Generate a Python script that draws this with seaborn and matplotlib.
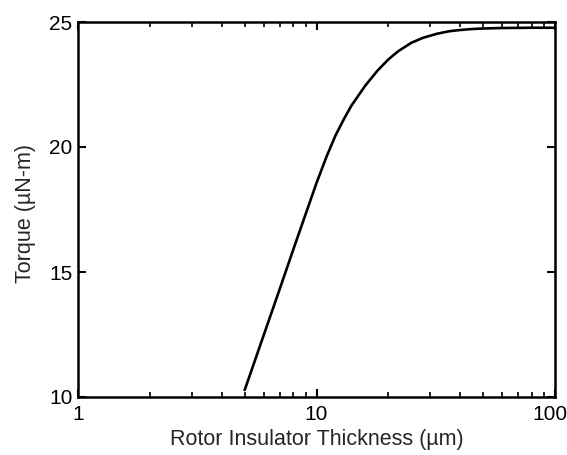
import matplotlib
matplotlib.use("Agg")
import matplotlib.pyplot as plt
import matplotlib.transforms as mtransforms
import seaborn as sns
import pandas as pd
from matplotlib.ticker import LogLocator, NullFormatter

thickness_um = [5, 6, 7, 8, 9, 10, 11, 12, 13, 14, 16, 18, 20, 22, 25, 28, 32,
                36, 40, 45, 50, 60, 80, 100]
torque_uNm = [10.28, 12.46, 14.30, 15.91, 17.31, 18.56, 19.60, 20.45, 21.10, 21.65,
              22.45, 23.05, 23.50, 23.83, 24.17, 24.37, 24.53, 24.63, 24.68, 24.72,
              24.74, 24.76, 24.77, 24.77]
x_ticks = [1, 10, 100]
x_ticklabels = ["1", "10", "100"]
y_ticks = [10, 15, 20, 25]

sns.set_theme(style="ticks")
plt.rcParams['font.family'] = ['Liberation Sans', 'DejaVu Sans']

df = pd.DataFrame({"x": thickness_um, "y": torque_uNm})

fig = plt.figure(figsize=(5.67, 4.55), dpi=100)
ax = fig.add_axes([78/567, 1 - 397/455, (555-78)/567, (397-22)/455])
sns.lineplot(data=df, x="x", y="y", ax=ax, color="black", linewidth=1.9)
ax.set_xscale("log")
ax.set_xlim(1, 100)
ax.set_ylim(10, 25)
ax.set_xticks(x_ticks)
ax.set_xticklabels(x_ticklabels)
ax.xaxis.set_minor_locator(LogLocator(base=10, subs=range(2, 10)))
ax.xaxis.set_minor_formatter(NullFormatter())
ax.set_yticks(y_ticks)
ax.set_yticklabels([str(v) for v in y_ticks])

for s in ax.spines.values():
    s.set_linewidth(1.8)
    s.set_color("black")
ax.tick_params(which="both", direction="in", top=True, right=True, colors="black",
               labelsize=15)
ax.tick_params(which="major", length=6, width=1.5)
ax.tick_params(which="minor", length=3.5, width=1.2)
ax.tick_params(axis="x", which="major", pad=6)
ax.tick_params(axis="y", which="major", pad=4)

ax.set_xlabel("Rotor Insulator Thickness (µm)", fontsize=15.5)
ax.set_ylabel("Torque (µN-m)", fontsize=15.5)
ax.xaxis.set_label_coords(0.5, -0.085)
ax.yaxis.set_label_coords(-0.088, 0.49)

# shift the last x tick label slightly left so it fits inside the image
offset = mtransforms.ScaledTranslation(-5/100, 0, fig.dpi_scale_trans)
lbl = ax.get_xticklabels()[-1]
lbl.set_transform(lbl.get_transform() + offset)

fig.savefig("out.png", dpi=100)
